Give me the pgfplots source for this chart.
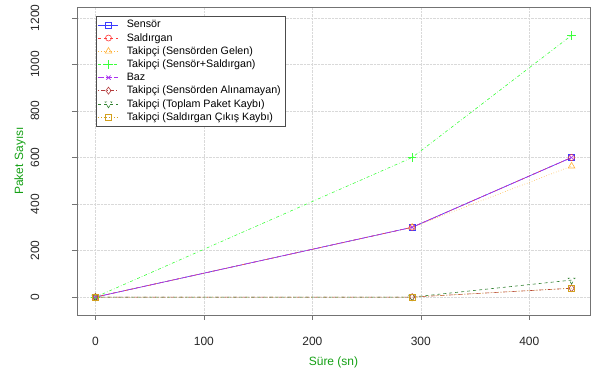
\documentclass[border=0pt]{standalone}
\usepackage{pgfplots}
\pgfplotsset{compat=1.18}
\usepackage{fontspec}
\setmainfont{Liberation Sans}
\definecolor{cSen}{RGB}{60,60,255}
\definecolor{cSal}{RGB}{255,60,60}
\definecolor{cGel}{RGB}{255,180,60}
\definecolor{cSS}{RGB}{60,255,60}
\definecolor{cBaz}{RGB}{170,50,240}
\definecolor{cAli}{RGB}{180,60,60}
\definecolor{cTop}{RGB}{50,130,50}
\definecolor{cCik}{RGB}{210,160,30}
\definecolor{labgreen}{RGB}{20,160,20}
\begin{document}
\begin{tikzpicture}
\begin{axis}[
  name=ax,
  scale only axis,
  width=513pt, height=308pt,
  xmin=-17, xmax=456, ymin=-77, ymax=1247,
  xtick={0,100,200,300,400},
  ytick={0,200,400,600,800,1000,1200},
  tick align=outside,
  tick pos=left,
  axis line style={black!55},
  tick style={black!55},
  major tick length=5pt,
  grid=major,
  grid style={densely dotted, black!15},
  /pgf/number format/assume math mode=true,
  /pgf/number format/1000 sep={},
  ticklabel style={font=\fontsize{12}{13}\selectfont, text=black!85},
  yticklabel style={rotate=90, anchor=center, yshift=37pt},
  xticklabel style={anchor=center, yshift=-21pt},
  xlabel={Süre (sn)},
  ylabel={Paket Sayısı},
  label style={font=\fontsize{12}{13}\selectfont, text=labgreen},
  xlabel style={at={(0.5,0)}, anchor=center, yshift=-47pt},
  ylabel style={at={(0,0.5)}, rotate=0, anchor=center, yshift=57pt},
  legend cell align=left,
  legend image code/.code={%
    \draw[mark repeat=2,mark phase=2] plot coordinates {(0pt,0pt) (10pt,0pt) (20pt,0pt)};},
  legend style={at={(0.037,0.97)}, anchor=north west, font=\fontsize{10.7}{12.2}\selectfont,
    draw=black!70, row sep=0pt, inner sep=2pt,
    /tikz/every odd column/.append style={column sep=6pt}},
  every axis plot/.append style={line width=0.6pt},
  mark options={solid, line width=0.6pt},
  mark size=3pt,
]
\addplot[cSen, mark=square] coordinates {(0,0) (292,300) (439,600)};
\addlegendentry{Sensör}
\addplot[cSal, dashed, mark=o] coordinates {(0,0) (292,300) (439,600)};
\addlegendentry{Saldırgan}
\addplot[cGel, dotted, mark=triangle, mark size=3.8pt] coordinates {(0,0) (292,300) (439,563)};
\addlegendentry{Takipçi (Sensörden Gelen)}
\addplot[cSS, dash dot, mark=+, mark size=4.2pt] coordinates {(0,0) (292,600) (439,1125)};
\addlegendentry{Takipçi (Sensör+Saldırgan)}
\addplot[cBaz, dash pattern=on 6pt off 2pt, mark=x] coordinates {(0,0) (292,300) (439,600)};
\addlegendentry{Baz}
\addplot[cAli, dash pattern=on 1pt off 2pt on 4pt off 2pt, mark=diamond, mark size=3.5pt] coordinates {(0,0) (292,0) (439,38)};
\addlegendentry{Takipçi (Sensörden Alınamayan)}
\addplot[cTop, dashed, mark=triangle, mark options={rotate=180}, mark size=4pt] coordinates {(0,0) (292,0) (439,73)};
\addlegendentry{Takipçi (Toplam Paket Kaybı)}
\addplot[cCik, dotted, mark=square] coordinates {(0,0) (292,0) (439,38)};
\addlegendentry{Takipçi (Saldırgan Çıkış Kaybı)}
\end{axis}
\path (ax.south west) ++(-77pt,-61pt) (ax.north east) ++(2pt,7pt);
\end{tikzpicture}
\end{document}
